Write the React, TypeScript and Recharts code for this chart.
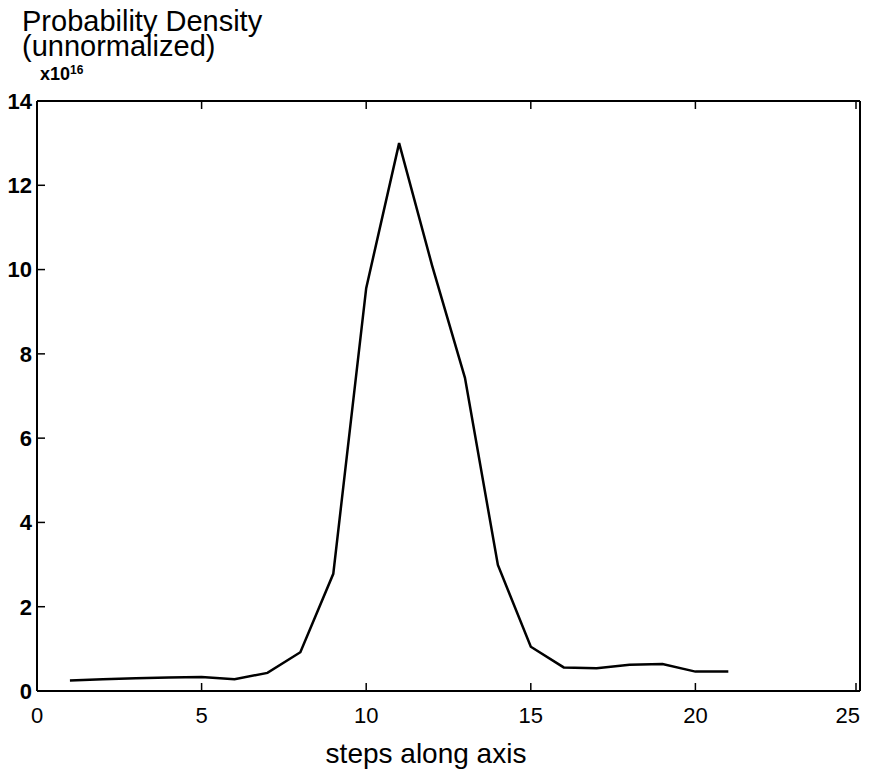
import React from 'react';
import { LineChart, Line, XAxis, YAxis } from 'recharts';

// steps along axis
const steps = [1, 2, 3, 4, 5, 6, 7, 8, 9, 10, 11, 12, 13, 14, 15, 16, 17, 18, 19, 20, 21];
// probability density, units of 1e16
const density = [0.25, 0.28, 0.3, 0.32, 0.33, 0.28, 0.43, 0.92, 2.78, 9.56, 13.0, 10.1, 7.43, 2.99, 1.05, 0.56, 0.54, 0.62, 0.64, 0.46, 0.46];
const xTicks = [0, 5, 10, 15, 20, 25];
const yTicks = [0, 2, 4, 6, 8, 10, 12, 14];

const data = steps.map((s, i) => ({ step: s, value: density[i] }));

const sans = '"Liberation Sans", Arial, Helvetica, sans-serif';
const TICK = 8;
const X_MARGIN = 16;
const Y_MARGIN = 5;

// ticks point into the plot, like the old matlab style
const BottomTick = (props: any) => {
  const { x, y, payload, index, visibleTicksCount } = props;
  const axisY = y - X_MARGIN;
  // last label sits on the page edge, keep it inside
  const last = index === visibleTicksCount - 1;
  return (
    <g>
      <line x1={x} x2={x} y1={axisY} y2={axisY - TICK} stroke="#000" strokeWidth={1.5} />
      <text
        x={last ? x + 4 : x}
        y={y}
        dy="0.71em"
        textAnchor={last ? 'end' : 'middle'}
        fill="#000"
        fontSize={22}
        fontFamily={sans}
      >
        {payload.value}
      </text>
    </g>
  );
};

const LeftTick = (props: any) => {
  const { x, y, payload } = props;
  const axisX = x + Y_MARGIN;
  return (
    <g>
      <line x1={axisX} x2={axisX + TICK} y1={y} y2={y} stroke="#000" strokeWidth={1.5} />
      <text x={x} y={y} dy="0.355em" textAnchor="end" fill="#000" fontSize={22} fontWeight="bold" fontFamily={sans}>
        {payload.value}
      </text>
    </g>
  );
};

const TopTick = (props: any) => {
  const { x, y } = props;
  return <line x1={x} x2={x} y1={y} y2={y + TICK} stroke="#000" strokeWidth={1.5} />;
};

const RightTick = (props: any) => {
  const { x, y } = props;
  return <line x1={x} x2={x - TICK} y1={y} y2={y} stroke="#000" strokeWidth={1.5} />;
};

const App: React.FC = () => {
  return (
    <div style={{ position: 'relative', width: 856, height: 766, background: '#fff' }}>
      <div style={{ position: 'absolute', left: 14, top: 1, fontFamily: sans, fontSize: 29, lineHeight: '25px', color: '#000' }}>
        Probability Density
      </div>
      <div style={{ position: 'absolute', left: 14, top: 26, fontFamily: sans, fontSize: 29, lineHeight: '25px', color: '#000' }}>
        (unnormalized)
      </div>
      <div
        style={{
          position: 'absolute',
          left: 32,
          top: 55,
          fontFamily: sans,
          fontSize: 18,
          fontWeight: 'bold',
          color: '#000',
        }}
      >
        x10<sup style={{ fontSize: 12, verticalAlign: 6 }}>16</sup>
      </div>
      <div
        style={{
          position: 'absolute',
          left: 418,
          top: 730,
          transform: 'translateX(-50%)',
          whiteSpace: 'nowrap',
          fontFamily: sans,
          fontSize: 28,
          color: '#000',
        }}
      >
        steps along axis
      </div>
      <LineChart
        width={856}
        height={766}
        data={data}
        margin={{ top: 92, right: 3, left: 0, bottom: 0 }}
      >
        <XAxis
          xAxisId="bottom"
          dataKey="step"
          type="number"
          domain={[0, 25]}
          ticks={xTicks}
          height={83}
          tickSize={0}
          tickMargin={X_MARGIN}
          tickLine={false}
          stroke="#000"
          strokeWidth={2}
          tick={<BottomTick />}
        />
        <XAxis
          xAxisId="top"
          dataKey="step"
          type="number"
          orientation="top"
          domain={[0, 25]}
          ticks={xTicks}
          height={1}
          tickSize={0}
          tickMargin={0}
          tickLine={false}
          stroke="#000"
          strokeWidth={2}
          tick={<TopTick />}
        />
        <YAxis
          yAxisId="left"
          type="number"
          domain={[0, 14]}
          ticks={yTicks}
          width={29}
          tickSize={0}
          tickMargin={Y_MARGIN}
          tickLine={false}
          stroke="#000"
          strokeWidth={2}
          tick={<LeftTick />}
        />
        <YAxis
          yAxisId="right"
          type="number"
          orientation="right"
          domain={[0, 14]}
          ticks={yTicks}
          width={1}
          tickSize={0}
          tickMargin={0}
          tickLine={false}
          stroke="#000"
          strokeWidth={2}
          tick={<RightTick />}
        />
        <Line
          xAxisId="bottom"
          yAxisId="left"
          type="linear"
          dataKey="value"
          stroke="#000"
          strokeWidth={2.5}
          dot={false}
          isAnimationActive={false}
        />
      </LineChart>
    </div>
  );
};

export default App;
